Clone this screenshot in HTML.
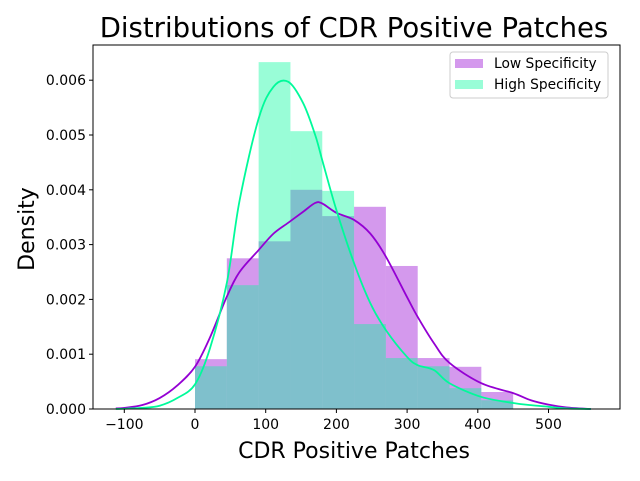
<!DOCTYPE html>
<html><head><meta charset="utf-8"><style>
body{margin:0;background:#fff;}
svg text{font-family:"DejaVu Sans","Liberation Sans",sans-serif;}
</style></head><body>
<svg id="chart" width="640" height="476" xmlns="http://www.w3.org/2000/svg">
<text x="354" y="37" font-size="27.5" text-anchor="middle">Distributions of CDR Positive Patches</text>
<g id="plot"></g>
</svg>
<script>
const binEdges=[0,45,90,135,180,225,270,315,360,405,450];
const lowHist=[0.00091,0.00275,0.00306,0.00400,0.00352,0.00369,0.00261,0.00093,0.00077,0.00031];
const highHist=[0.00078,0.00226,0.00633,0.00507,0.00398,0.00155,0.00093,0.00078,0.00038,0.00016];
const kdeX=[-112,-100,-75,-50,-25,0,21,45,63,90,111,132,153,170,180,200,225,248,270,300,315,338,360,405,450,475,500,525,560];
const lowKde=[0.00001,0.00002,0.00007,0.0002,0.00043,0.00077,0.0013,0.00205,0.0025,0.0029,0.0032,0.0034,0.0036,0.00376,0.00375,0.00358,0.00345,0.0032,0.00278,0.00204,0.00168,0.0012,0.00084,0.00047,0.00029,0.00016,0.00008,0.00003,0.0];
const highKde=[0,0.000005,0.00002,0.00006,0.0002,0.00045,0.0011,0.0023,0.0038,0.0053,0.00588,0.00597,0.00558,0.0050,0.00454,0.00363,0.00266,0.00193,0.00144,0.00095,0.0008,0.00071,0.00047,0.00022,0.00011,0.00007,0.00004,0.00001,0.0];
const xTicks=[-100,0,100,200,300,400,500];
const yTicks=[0,0.001,0.002,0.003,0.004,0.005,0.006];
const yTickLabels=["0.000","0.001","0.002","0.003","0.004","0.005","0.006"];
const L=93,R=620,T=45,B=409;
const xs=v=>195+v*0.707;
const ys=v=>409-v*54.8/0.001;
const ns="http://www.w3.org/2000/svg";
const g=document.getElementById('plot');
function mk(t,a){const e=document.createElementNS(ns,t);for(const k in a)e.setAttribute(k,a[k]);g.appendChild(e);return e;}
function bars(h,fill,name){h.forEach((v,i)=>{const x0=xs(binEdges[i]),x1=xs(binEdges[i+1]);
const r=mk('rect',{x:x0,y:ys(v),width:x1-x0,height:B-ys(v),fill:fill});

});}
bars(lowHist,'rgba(148,0,211,0.4)','low-specificity');
bars(highHist,'rgba(0,250,154,0.4)','high-specificity');
function smooth(pts){let d='M'+pts[0][0]+','+pts[0][1];
for(let i=0;i<pts.length-1;i++){const p0=pts[Math.max(i-1,0)],p1=pts[i],p2=pts[i+1],p3=pts[Math.min(i+2,pts.length-1)];
const c1=[p1[0]+(p2[0]-p0[0])/6,p1[1]+(p2[1]-p0[1])/6],c2=[p2[0]-(p3[0]-p1[0])/6,p2[1]-(p3[1]-p1[1])/6];
d+=' C'+c1[0]+','+c1[1]+' '+c2[0]+','+c2[1]+' '+p2[0]+','+p2[1];}return d;}
function line(vals,col,name){const p=mk('path',{d:smooth(kdeX.map((x,i)=>[xs(x),ys(vals[i])])),fill:'none',stroke:col,'stroke-width':1.8,'stroke-linejoin':'round'});

}
line(lowKde,'#9400D3','low-specificity-kde');
line(highKde,'#00FA9A','high-specificity-kde');
const fr=mk('rect',{x:L,y:T,width:R-L,height:B-T,fill:'none',stroke:'#000','stroke-width':1});


xTicks.forEach(v=>{const x=xs(v);mk('line',{x1:x,x2:x,y1:B,y2:B+4,stroke:'#000'});
const t=mk('text',{x:x,y:B+20,'font-size':14,'text-anchor':'middle'});t.textContent=v<0?'\u2212'+(-v):v;

});
yTicks.forEach((v,i)=>{const y=ys(v);mk('line',{x1:L-4,x2:L,y1:y,y2:y,stroke:'#000'});
const t=mk('text',{x:L-7,y:y+5,'font-size':14,'text-anchor':'end'});t.textContent=yTickLabels[i];

});
const xl=mk('text',{x:354,y:458,'font-size':22,'text-anchor':'middle'});xl.textContent='CDR Positive Patches';


const yl=mk('text',{x:34,y:229,'font-size':22,'text-anchor':'middle',transform:'rotate(-90 34 229)'});yl.textContent='Density';


const lg=mk('rect',{x:450,y:52,width:158,height:46,rx:3,fill:'rgba(255,255,255,0.8)',stroke:'#ccc'});


[['Low Specificity','rgba(148,0,211,0.4)',63],['High Specificity','rgba(0,250,154,0.4)',84]].forEach(([n,c,y])=>{
mk('rect',{x:455,y:y-4,width:28,height:9,fill:c});
const t=mk('text',{x:494,y:y+5,'font-size':13.8});t.textContent=n;

});
</script>
</body></html>
